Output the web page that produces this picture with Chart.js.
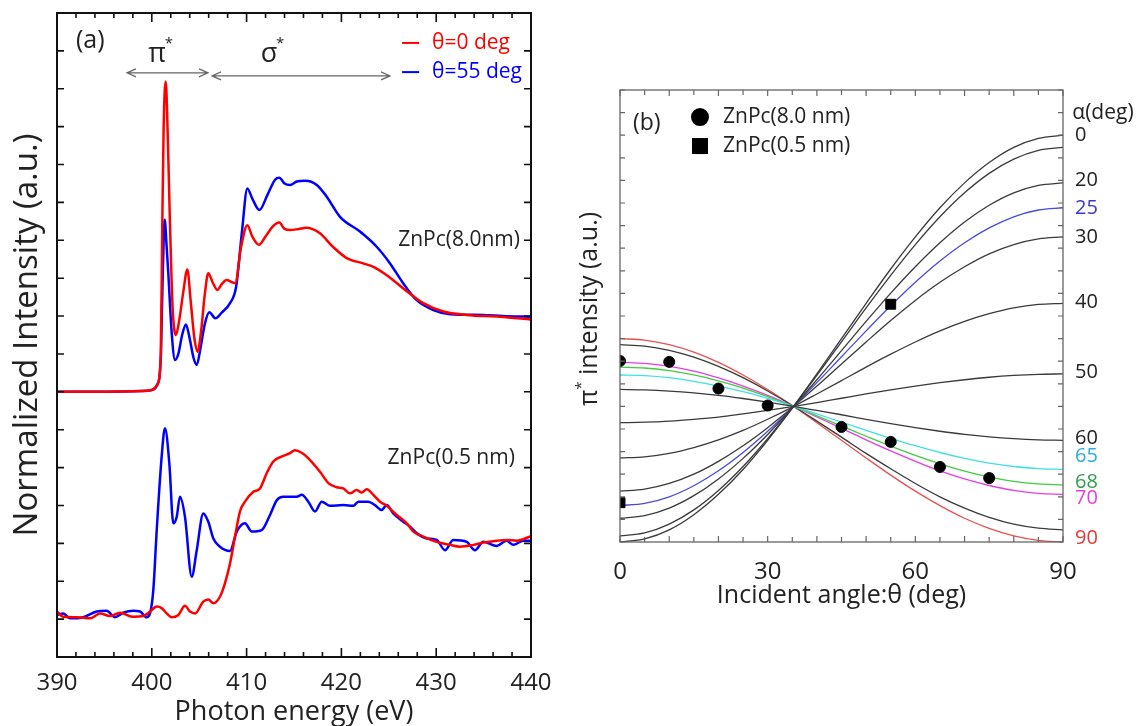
<!DOCTYPE html>
<html><head><meta charset="utf-8">
<script src="https://cdn.jsdelivr.net/npm/chart.js@4.4.1/dist/chart.umd.min.js"></script>
<style>
html,body{margin:0;padding:0;background:#fff;width:1146px;height:726px;overflow:hidden}
#ca{position:absolute;left:0;top:0}
#cb{position:absolute;left:560px;top:0}
</style></head><body>
<canvas id="ca" width="560" height="726"></canvas>
<canvas id="cb" width="586" height="726"></canvas>
<script>
// ---------- Panel (a) data : photon energy (eV) / normalized intensity ----------
const energyTicks = [390, 400, 410, 420, 430, 440];
const red8E = [390,395,399,400,400.6,400.95,401.1,401.25,401.47,401.7,401.9,402.2,402.55,402.9,403.3,403.75,404.1,404.5,404.84,405.2,405.6,405.96,406.4,406.9,407.4,407.9,408.4,408.8,409.4,410.08,410.6,411.3,412,412.7,413.45,414,414.6,415.5,416.3,417.7,419.1,420.56,422.3,423.37,424.78,426.53,428.64,430.75,433.2,436.7,440];
const red8I = [7.0,7.0,7.02,7.05,7.2,8.0,11.3,14.0,15.19,13.6,11.6,9.2,8.5,8.9,9.6,10.23,9.4,8.4,8.06,8.6,9.6,10.13,9.9,9.69,9.85,9.95,9.9,9.87,10.8,11.4,11.1,10.88,11.1,11.35,11.47,11.3,11.27,11.3,11.33,11.19,10.83,10.53,10.39,10.3,10.08,9.73,9.34,9.12,9.03,8.98,8.91];
const blue8E = [390,395,399,400,400.6,400.95,401.1,401.25,401.36,401.55,401.74,402.1,402.45,402.8,403.2,403.6,404.0,404.4,404.74,405.1,405.6,406.07,406.7,407.4,408.25,408.9,409.5,410.08,410.6,411.35,412.2,413.0,413.45,414.0,414.58,415.3,416.2,417.4,418.45,419.85,421.96,423.72,425.13,426.53,427.94,429.7,431.46,434.97,437,440];
const blue8I = [7.0,7.0,7.02,7.05,7.2,7.9,9.5,11.0,11.54,10.9,10.13,8.55,7.84,8.0,8.5,8.78,8.4,7.9,7.71,8.1,8.8,9.1,8.94,9.1,9.34,9.78,11.2,12.37,12.1,11.8,12.2,12.6,12.65,12.5,12.46,12.55,12.57,12.46,12.15,11.62,11.23,10.83,10.39,9.86,9.42,9.16,9.05,9.03,9.0,8.98];
const blue05E = [390,390.66,391.37,392.77,394.19,395.24,396.12,397.0,398.05,398.76,399.46,399.81,400.16,400.52,401.04,401.39,401.85,402.27,402.63,402.97,403.5,404.21,404.74,405.43,405.96,406.49,407.19,408.25,408.96,409.83,410.54,411.59,412.47,413.18,413.87,415.28,415.81,416.51,417.22,417.92,418.8,420.2,421.26,421.78,422.84,423.54,424.25,424.78,425.47,426.53,427.24,427.94,429.0,430.05,430.93,431.8,433.22,434.09,434.97,436.38,437.44,438.13,439.19,440];
const blue05I = [1.11,1.15,1.02,1.05,1.2,1.22,1.05,1.17,1.22,1.2,1.05,1.15,1.77,3.35,5.29,6.04,5.11,3.53,3.7,4.23,3.7,2.12,2.82,3.79,3.57,3.13,2.91,2.8,3.31,3.53,3.31,3.35,3.75,4.14,4.23,4.23,4.28,4.1,3.84,4.1,3.99,4.01,3.99,4.1,4.1,4.01,3.88,4.01,3.79,3.57,3.44,3.27,3.13,3.09,2.82,3.09,3.04,2.82,3.04,2.93,3.07,2.96,3.07,3.07];
const red05E = [390,390.66,392.08,393.48,394.54,395.59,396.65,398.05,399.1,399.81,400.52,401.04,401.57,402.1,402.8,403.5,404.03,404.56,405.43,405.96,406.49,407.19,407.72,408.25,408.78,409.3,409.83,410.71,411.41,412.12,412.82,413.87,414.58,415.1,415.81,416.69,417.74,418.62,419.5,420.2,420.91,421.61,422.14,422.67,423.37,424.07,424.78,425.83,426.89,427.59,428.64,430.05,431.46,432.51,433.92,434.97,436.38,437.44,438.49,440];
const red05I = [1.2,1.06,1.05,1.02,1.15,1.08,1.17,1.06,1.08,1.2,1.33,1.29,1.15,1.05,1.11,1.35,1.2,1.15,1.46,1.52,1.42,1.59,1.95,2.47,3.18,3.84,4.1,4.36,4.45,4.85,5.16,5.31,5.38,5.46,5.39,5.2,4.89,4.59,4.48,4.45,4.32,4.41,4.34,4.43,4.28,4.1,3.99,3.75,3.53,3.31,3.18,3.04,2.96,2.91,2.96,3.02,3.07,3.09,3.07,3.19];
const legendA = ['θ=0 deg', 'θ=55 deg'];
const sampleA = ['ZnPc(8.0nm)', 'ZnPc(0.5 nm)'];

// ---------- Panel (b) data : incident angle (deg) / pi* intensity ----------
const angleTicks = [0, 30, 60, 90];
const thetaGrid = [0, 5, 10, 15, 20, 25, 30, 35, 40, 45, 50, 55, 60, 65, 70, 75, 80, 85, 90];
const alphaList = [0, 10, 20, 25, 30, 40, 50, 60, 65, 68, 70, 80, 90];
const curveA0  = [0, 0.14, 0.54, 1.21, 2.11, 3.21, 4.5, 5.92, 7.44, 9.0, 10.56, 12.08, 13.5, 14.79, 15.89, 16.79, 17.46, 17.86, 18];
const curveA10 = [0.27, 0.40, 0.79, 1.42, 2.28, 3.34, 4.57, 5.93, 7.37, 8.86, 10.36, 11.80, 13.16, 14.39, 15.45, 16.31, 16.94, 17.33, 17.46];
const curveA20 = [1.05, 1.17, 1.5, 2.05, 2.79, 3.70, 4.76, 5.94, 7.18, 8.47, 9.76, 11.01, 12.18, 13.24, 14.16, 14.90, 15.45, 15.78, 15.89];
const curveA25 = [1.61, 1.71, 2.0, 2.49, 3.15, 3.96, 4.9, 5.94, 7.05, 8.20, 9.34, 10.45, 11.49, 12.43, 13.24, 13.90, 14.39, 14.69, 14.79];
const curveA30 = [2.25, 2.34, 2.59, 3.00, 3.57, 4.26, 5.06, 5.95, 6.9, 7.88, 8.85, 9.80, 10.69, 11.49, 12.18, 12.75, 13.16, 13.41, 13.5];
const curveA40 = [3.72, 3.77, 3.92, 4.18, 4.52, 4.94, 5.43, 5.97, 6.55, 7.14, 7.74, 8.31, 8.85, 9.34, 9.76, 10.10, 10.36, 10.51, 10.56];
const curveA50 = [5.28, 5.30, 5.35, 5.43, 5.53, 5.67, 5.82, 5.99, 6.17, 6.36, 6.55, 6.73, 6.9, 7.05, 7.18, 7.29, 7.37, 7.42, 7.44];
const curveA60 = [6.75, 6.73, 6.68, 6.60, 6.49, 6.35, 6.19, 6.01, 5.82, 5.63, 5.43, 5.24, 5.06, 4.90, 4.76, 4.65, 4.57, 4.52, 4.5];
const curveA65 = [7.39, 7.36, 7.27, 7.11, 6.9, 6.65, 6.35, 6.02, 5.67, 5.30, 4.94, 4.59, 4.26, 3.96, 3.7, 3.49, 3.34, 3.25, 3.21];
const curveA68 = [7.74, 7.70, 7.58, 7.39, 7.13, 6.81, 6.43, 6.02, 5.58, 5.13, 4.68, 4.24, 3.83, 3.46, 3.14, 2.88, 2.68, 2.57, 2.53];
const curveA70 = [7.95, 7.90, 7.77, 7.56, 7.26, 6.90, 6.49, 6.03, 5.53, 5.03, 4.52, 4.03, 3.57, 3.15, 2.79, 2.50, 2.28, 2.15, 2.11];
const curveA80 = [8.73, 8.67, 8.48, 8.18, 7.77, 7.27, 6.68, 6.04, 5.35, 4.64, 3.92, 3.24, 2.59, 2.00, 1.5, 1.09, 0.79, 0.61, 0.54];
const curveA90 = [9, 8.93, 8.73, 8.40, 7.95, 7.39, 6.75, 6.04, 5.28, 4.5, 3.72, 2.96, 2.25, 1.61, 1.05, 0.60, 0.27, 0.07, 0];
const curveColors = ['#3a3a3a','#3a3a3a','#3a3a3a','#4a4ad8','#3a3a3a','#3a3a3a','#3a3a3a','#3a3a3a','#40e0e0','#40cc40','#e83ce8','#3a3a3a','#e85050'];
const theta8 = [0, 10, 20, 30, 45, 55, 65, 75];
const int8   = [8.01, 7.97, 6.79, 6.04, 5.09, 4.43, 3.32, 2.83];
const theta05 = [0, 55];
const int05   = [1.74, 10.52];
const alphaLabels = ['0', '20', '25', '30', '40', '50', '60', '65', '68', '70', '90'];
const alphaLabelVals = [18.0, 16.01, 14.78, 13.49, 10.61, 7.51, 4.59, 3.8, 2.64, 1.94, 0.16];
const alphaLabelColors = ['#222','#222','#3a3ac8','#222','#222','#222','#222','#2aaee0','#2e9e4e','#e040e0','#e03a3a'];
const legendB = ['ZnPc(8.0 nm)', 'ZnPc(0.5 nm)'];

const FONT = "'Open Sans', sans-serif";
const xy = (xs, ys) => xs.map((v, i) => ({x: v, y: ys[i]}));

function text(ctx, s, x, y, size, color, align) {
  ctx.font = size + 'px ' + FONT;
  ctx.fillStyle = color;
  ctx.textAlign = align || 'left';
  ctx.textBaseline = 'middle';
  ctx.fillText(s, x, y);
}

const frameTicks = {
  id: 'frameTicks',
  afterDatasetsDraw(chart, args, o) {
    const {ctx, chartArea: a} = chart;
    const xs = chart.scales.x, ys = chart.scales.y;
    ctx.save();
    ctx.strokeStyle = o.color;
    ctx.lineWidth = o.tickWidth;
    ctx.beginPath();
    const n = Math.round((xs.max - xs.min) / o.xStep);
    for (let i = 0; i <= n; i++) {
      const p = xs.getPixelForValue(xs.min + i * o.xStep);
      const L = (i % o.xMajorEvery === 0) ? o.xMajorLen : o.xMinorLen;
      ctx.moveTo(p, a.bottom); ctx.lineTo(p, a.bottom - L);
      ctx.moveTo(p, a.top); ctx.lineTo(p, a.top + L);
    }
    const m = Math.round((ys.max - ys.min) / o.yStep);
    for (let j = 0; j <= m; j++) {
      const p = ys.getPixelForValue(ys.min + j * o.yStep);
      ctx.moveTo(a.left, p); ctx.lineTo(a.left + o.yLen, p);
      ctx.moveTo(a.right, p); ctx.lineTo(a.right - o.yLen, p);
    }
    ctx.stroke();
    ctx.lineWidth = o.frameWidth;
    ctx.strokeRect(a.left, a.top, a.right - a.left, a.bottom - a.top);
    ctx.restore();
  }
};

function arrow(ctx, x1, x2, y) {
  ctx.beginPath();
  ctx.moveTo(x1, y); ctx.lineTo(x2, y);
  ctx.moveTo(x1 + 9, y - 4); ctx.lineTo(x1, y); ctx.lineTo(x1 + 9, y + 4);
  ctx.moveTo(x2 - 9, y - 4); ctx.lineTo(x2, y); ctx.lineTo(x2 - 9, y + 4);
  ctx.stroke();
}

const annotA = {
  id: 'annotA',
  afterDraw(chart) {
    const {ctx} = chart;
    const X = v => chart.scales.x.getPixelForValue(v);
    const Y = v => chart.scales.y.getPixelForValue(v);
    ctx.save();
    text(ctx, '(a)', X(392.0), Y(16.26), 25, '#222');
    text(ctx, 'π', X(400.55), Y(15.92), 27, '#222', 'center');
    text(ctx, '*', X(401.8), Y(16.2), 15, '#222', 'center');
    text(ctx, 'σ', X(412.36), Y(15.92), 27, '#222', 'center');
    text(ctx, '*', X(413.55), Y(16.2), 15, '#222', 'center');
    ctx.strokeStyle = '#666'; ctx.lineWidth = 1.2;
    arrow(ctx, X(397.38), X(405.93), Y(15.42));
    arrow(ctx, X(406.35), X(425.13), Y(15.34));
    const legCols = ['#ff0000', '#0000ff'];
    const legV = [16.21, 15.44];
    legendA.forEach((s, i) => {
      ctx.strokeStyle = legCols[i]; ctx.lineWidth = 2;
      ctx.beginPath(); ctx.moveTo(X(426.4), Y(legV[i])); ctx.lineTo(X(428.2), Y(legV[i])); ctx.stroke();
      text(ctx, s, X(429.56), Y(legV[i]), 21, legCols[i]);
    });
    text(ctx, sampleA[0], X(438.84), Y(11.01), 21, '#222', 'right');
    text(ctx, sampleA[1], X(438.3), Y(5.25), 21, '#222', 'right');
    ctx.restore();
  }
};

new Chart(document.getElementById('ca'), {
  type: 'line',
  data: {
    datasets: [
      {data: xy(red8E, red8I), borderColor: '#ff0000'},
      {data: xy(blue8E, blue8I), borderColor: '#0000ff'},
      {data: xy(red05E, red05I), borderColor: '#ff0000'},
      {data: xy(blue05E, blue05I), borderColor: '#0000ff'}
    ]
  },
  options: {
    responsive: false, animation: false,
    elements: {point: {radius: 0}, line: {borderWidth: 2.5, cubicInterpolationMode: 'monotone', fill: false}},
    layout: {padding: {left: 0, right: 29, top: 13, bottom: 0}},
    plugins: {legend: {display: false}, tooltip: {enabled: false},
      frameTicks: {color: '#111', tickWidth: 1.6, frameWidth: 2, xStep: 2, xMajorEvery: 5, xMajorLen: 9, xMinorLen: 5, yStep: 1, yLen: 7}},
    scales: {
      x: {type: 'linear', min: 390, max: 440,
        afterBuildTicks: s => { s.ticks = energyTicks.map(v => ({value: v})); },
        ticks: {font: {family: FONT, size: 24}, color: '#222', padding: 4, maxRotation: 0},
        grid: {display: false}, border: {display: false},
        title: {display: true, text: 'Photon energy (eV)', font: {family: FONT, size: 27, lineHeight: 1}, color: '#222', padding: {top: 0, bottom: 0}},
        afterFit: s => { s.height = 69; }},
      y: {min: 0, max: 17,
        ticks: {display: false}, grid: {display: false}, border: {display: false},
        title: {display: true, text: 'Normalized Intensity (a.u.)', font: {family: FONT, size: 33, lineHeight: 1}, color: '#222', padding: {top: 11, bottom: 0}},
        afterFit: s => { s.width = 57; }}
    }
  },
  plugins: [frameTicks, annotA]
});

const annotB = {
  id: 'annotB',
  afterDraw(chart) {
    const {ctx} = chart;
    const X = v => chart.scales.x.getPixelForValue(v);
    const Y = v => chart.scales.y.getPixelForValue(v);
    ctx.save();
    text(ctx, '(b)', X(2.64), Y(18.53), 23, '#222');
    ctx.fillStyle = '#000';
    ctx.beginPath(); ctx.arc(X(16.25), Y(18.8), 9, 0, Math.PI * 2); ctx.fill();
    ctx.fillRect(X(16.25) - 8, Y(17.52) - 8, 16, 16);
    text(ctx, legendB[0], X(20.93), Y(18.8), 21, '#222');
    text(ctx, legendB[1], X(20.93), Y(17.52), 21, '#222');
    text(ctx, 'α(deg)', X(91.9), Y(19.0), 21, '#222');
    alphaLabels.forEach((s, i) => text(ctx, s, X(92.45), Y(alphaLabelVals[i]), 20, alphaLabelColors[i]));
    ctx.translate(30, 309);
    ctx.rotate(-Math.PI / 2);
    ctx.font = '25px ' + FONT;
    const w1 = ctx.measureText('π').width;
    ctx.font = '15px ' + FONT;
    const w2 = ctx.measureText('*').width;
    ctx.font = '25px ' + FONT;
    const rest = ' intensity (a.u.)';
    const w3 = ctx.measureText(rest).width;
    const x0 = -(w1 + w2 + w3) / 2;
    text(ctx, 'π', x0, 0, 25, '#222');
    text(ctx, '*', x0 + w1, -8, 15, '#222');
    text(ctx, rest, x0 + w1 + w2, 0, 25, '#222');
    ctx.restore();
  }
};

const curves = [curveA0, curveA10, curveA20, curveA25, curveA30, curveA40, curveA50, curveA60, curveA65, curveA68, curveA70, curveA80, curveA90];
const datasetsB = [
  {data: xy(theta8, int8), showLine: false, pointStyle: 'circle', pointRadius: 5.5, pointBackgroundColor: '#000', pointBorderColor: '#000'},
  {data: xy(theta05, int05), showLine: false, pointStyle: 'rect', pointRadius: 7, pointBackgroundColor: '#000', pointBorderColor: '#000'}
].concat(curves.map((c, i) => ({data: xy(thetaGrid, c), borderColor: curveColors[i], borderWidth: 1.3, pointRadius: 0, cubicInterpolationMode: 'monotone'})));

new Chart(document.getElementById('cb'), {
  type: 'line',
  data: {datasets: datasetsB},
  options: {
    responsive: false, animation: false,
    layout: {padding: {left: 0, right: 83, top: 90, bottom: 110}},
    plugins: {legend: {display: false}, tooltip: {enabled: false},
      frameTicks: {color: '#666', tickWidth: 1.2, frameWidth: 1.3, xStep: 5, xMajorEvery: 2, xMajorLen: 6, xMinorLen: 5, yStep: 1, yLen: 5}},
    scales: {
      x: {type: 'linear', min: 0, max: 90,
        afterBuildTicks: s => { s.ticks = angleTicks.map(v => ({value: v})); },
        ticks: {font: {family: FONT, size: 24}, color: '#222', padding: 8, maxRotation: 0},
        grid: {display: false}, border: {display: false},
        title: {display: true, text: 'Incident angle:θ (deg)', font: {family: FONT, size: 25, lineHeight: 1}, color: '#222', padding: {top: 0, bottom: 8}},
        afterFit: s => { s.height = 74; }},
      y: {min: 0, max: 20,
        ticks: {display: false}, grid: {display: false}, border: {display: false},
        title: {display: false},
        afterFit: s => { s.width = 60; }}
    }
  },
  plugins: [frameTicks, annotB]
});
</script>
</body></html>
